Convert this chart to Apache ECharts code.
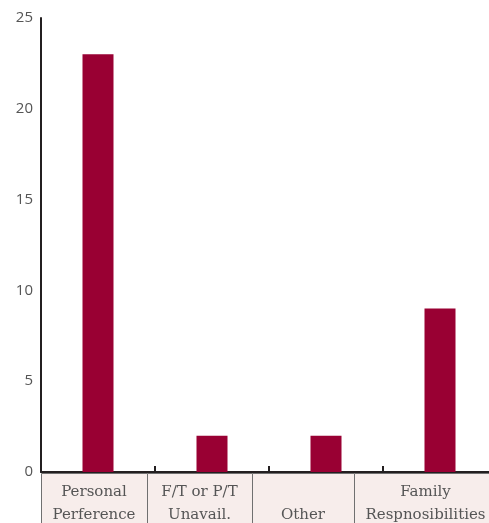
<!DOCTYPE html>
<html>
<head>
<meta charset="utf-8">
<script src="https://cdn.jsdelivr.net/npm/echarts@6/dist/echarts.min.js"></script>
<style>
  html, body { margin: 0; padding: 0; background: #ffffff; overflow: hidden; width: 489px; height: 523px; }
  #chart { width: 497px; height: 523px; }
</style>
</head>
<body>
<div id="chart"></div>
<script>
// Reasons given, with their counts
const categories = ['Personal Perference', 'F/T or P/T Unavail.', 'Other', 'Family Respnosibilities'];
const labelLines = [['Personal', 'Perference'], ['F/T or P/T', 'Unavail.'], ['', 'Other'], ['Family', 'Respnosibilities']];
const counts = [23, 2, 2, 9];
const yTicks = [0, 5, 10, 15, 20, 25];

// Layout of the label table under the axis
const cellEdges = [41, 147, 252, 354, 497];
const cellTop = 473;
const cellHeight = 70;

const chart = echarts.init(document.getElementById('chart'), null, { renderer: 'canvas' });

const cellGraphics = [];
for (let i = 0; i < categories.length; i++) {
  const x0 = cellEdges[i], x1 = cellEdges[i + 1];
  cellGraphics.push({
    type: 'rect',
    shape: { x: x0 + 0.5, y: cellTop + 0.5, width: x1 - x0, height: cellHeight },
    style: { fill: '#f7edeb', stroke: '#707070', lineWidth: 1 },
    silent: true
  });
  cellGraphics.push({
    type: 'text',
    x: (x0 + x1) / 2,
    y: cellTop + 8,
    style: {
      text: labelLines[i].join('\n'),
      fill: '#555555',
      font: '15px "DejaVu Serif"',
      lineHeight: 23,
      align: 'center',
      verticalAlign: 'top'
    },
    silent: true
  });
}

chart.setOption({
  animation: false,
  grid: { left: 41, right: 0, top: 18, bottom: 51, containLabel: false },
  xAxis: {
    type: 'category',
    data: categories,
    axisLine: { show: true, lineStyle: { color: '#231f20', width: 2 } },
    axisTick: { show: true, interval: 0, inside: true, length: 6, lineStyle: { color: '#231f20', width: 2 } },
    axisLabel: { show: false },
    splitLine: { show: false }
  },
  yAxis: {
    type: 'value',
    min: yTicks[0],
    max: yTicks[yTicks.length - 1],
    interval: yTicks[1] - yTicks[0],
    axisLine: { show: true, lineStyle: { color: '#231f20', width: 2 } },
    axisTick: { show: false },
    splitLine: { show: false },
    axisLabel: { color: '#555555', fontSize: 15, fontFamily: 'Open Sans', margin: 8, padding: [3, 0, 0, 0] }
  },
  series: [{
    type: 'bar',
    data: counts,
    barWidth: 31,
    itemStyle: { color: '#990033' }
  }],
  graphic: cellGraphics
});
</script>
</body>
</html>
